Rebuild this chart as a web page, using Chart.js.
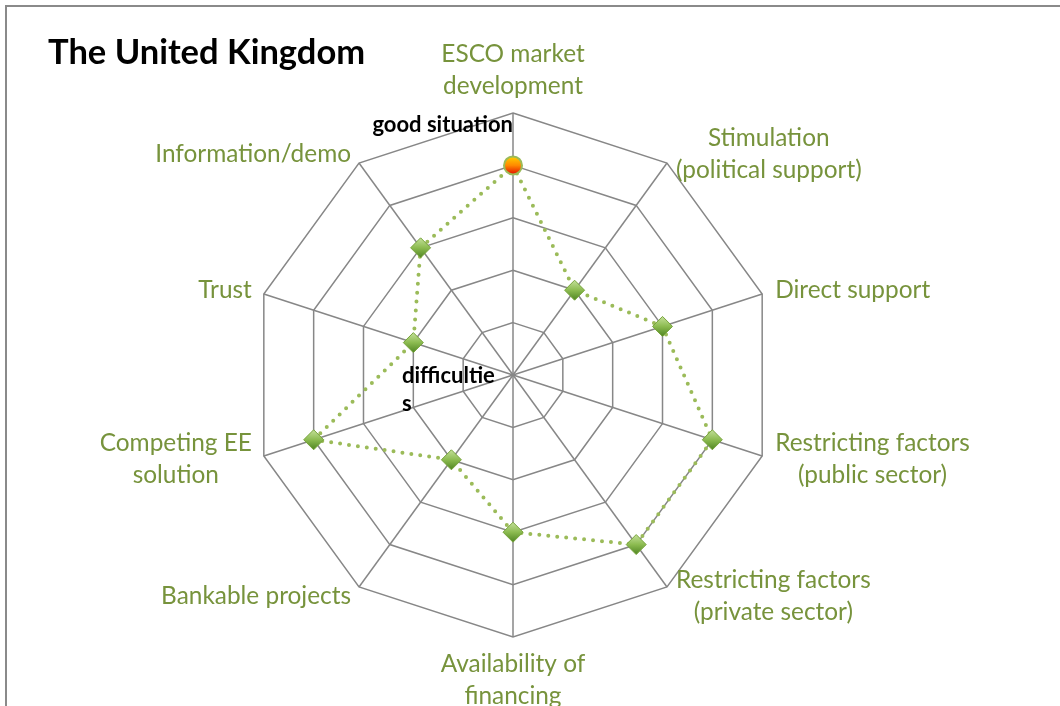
<!DOCTYPE html>
<html>
<head>
<meta charset="utf-8">
<script src="https://cdn.jsdelivr.net/npm/chart.js@4.4.0/dist/chart.umd.min.js"></script>
<style>
  body { margin: 0; background: #fff; overflow: hidden; }
  #frame { position: absolute; left: 5px; top: 5px; width: 1100px; height: 800px;
           border-left: 2px solid #8a8a8a; border-top: 2px solid #8a8a8a; }
  #chart { position: absolute; left: 0; top: 0; }
</style>
</head>
<body>
<div id="frame"></div>
<canvas id="chart" width="1060" height="706"></canvas>
<script>
// axes of the radar, one per factor
const categories = [
    ['ESCO market', 'development'],
    ['Stimulation', '(political support)'],
    ['Direct support'],
    ['Restricting factors', '(public sector)'],
    ['Restricting factors', '(private sector)'],
    ['Availability of', 'financing'],
    ['Bankable projects'],
    ['Competing EE', 'solution'],
    ['Trust'],
    ['Information/demo']
]
// score for the UK on each axis (0 = difficulties, 5 = good situation)
const ukScores = [4, 2, 3, 4, 4, 3, 2, 4, 2, 3]
const scaleMin = 0
const scaleMax = 5
const scaleStep = 1

const chartTitle = 'The United Kingdom'
const topNote = 'good situation'
const centerNote = ['difficultie', 's']

const labelColor = '#77933c'
const gridColor = '#878787'

function markerFill(ctx) {
    const chart = ctx.chart
    const r = chart.scales.r
    if (!r || ctx.type !== 'data') return '#8db454'
    const p = r.getPointPositionForValue(ctx.dataIndex, ctx.raw)
    const g = chart.ctx.createLinearGradient(0, p.y - 10, 0, p.y + 10)
    if (ctx.dataIndex === 0) {
        g.addColorStop(0, '#ffd800')
        g.addColorStop(0.5, '#ff8a00')
        g.addColorStop(1, '#e00000')
    } else {
        g.addColorStop(0, '#c4e09a')
        g.addColorStop(0.5, '#8cbb50')
        g.addColorStop(1, '#4f8522')
    }
    return g
}

// draws the axis names the way the spreadsheet placed them, plus the notes and title
const textPlugin = {
    id: 'texts',
    afterDraw(chart) {
        const ctx = chart.ctx
        const r = chart.scales.r
        ctx.save()
        ctx.font = '24.4px Lato'
        ctx.fillStyle = labelColor
        ctx.textBaseline = 'middle'
        const lineH = 32
        chart.data.labels.forEach((lines, i) => {
            const p = r.getPointPosition(i, r.drawingArea + 11)
            const a = r.getIndexAngle(i)
            const s = Math.sin(a), c = Math.cos(a)
            const w = Math.max(...lines.map(t => ctx.measureText(t).width))
            let cx
            if (Math.abs(s) < 0.01) cx = p.x
            else if (s > 0) cx = p.x + 2.5 + w / 2
            else cx = p.x - 1.5 - w / 2
            let top
            if (Math.abs(s) < 0.01 && c > 0) top = p.y - lines.length * lineH
            else if (Math.abs(s) < 0.01) top = p.y
            else top = p.y - lines.length * lineH / 2
            ctx.textAlign = 'center'
            lines.forEach((t, k) => ctx.fillText(t, cx, top + lineH / 2 + k * lineH))
        })

        ctx.fillStyle = '#000'
        ctx.textBaseline = 'alphabetic'
        ctx.font = 'bold 22px Lato'
        ctx.textAlign = 'right'
        ctx.fillText(topNote, r.xCenter, r.yCenter - 243)
        ctx.textAlign = 'left'
        centerNote.forEach((t, k) => ctx.fillText(t, r.xCenter - 111, r.yCenter + 8 + k * 28))

        ctx.font = 'bold 34.5px Lato'
        ctx.fillText(chartTitle, 48, 64)
        ctx.restore()
    }
}

const chart = new Chart(document.getElementById('chart'), {
    type: 'radar',
    data: {
        labels: categories,
        datasets: [{
            data: ukScores,
            fill: false,
            clip: false,
            borderColor: '#9bbb59',
            backgroundColor: 'transparent',
            borderWidth: 4,
            borderDash: [0, 9],
            borderCapStyle: 'round',
            tension: 0,
            pointStyle: (c) => c.dataIndex === 0 ? 'circle' : 'rectRot',
            pointRadius: (c) => c.dataIndex === 0 ? 9 : 10,
            pointBackgroundColor: markerFill,
            pointBorderColor: (c) => c.dataIndex === 0 ? '#9bbb59' : '#76a33a',
            pointBorderWidth: (c) => c.dataIndex === 0 ? 2 : 1
        }]
    },
    options: {
        responsive: false,
        animation: false,
        layout: { padding: { left: 251, right: 285, top: 113, bottom: 69 } },
        plugins: {
            legend: { display: false },
            tooltip: { enabled: false }
        },
        scales: {
            r: {
                min: scaleMin,
                max: scaleMax,
                ticks: { display: false, stepSize: scaleStep },
                pointLabels: { display: false },
                grid: { color: gridColor, lineWidth: 1.5 },
                angleLines: { color: gridColor, lineWidth: 1.5 }
            }
        }
    },
    plugins: [textPlugin]
})
</script>
</body>
</html>
